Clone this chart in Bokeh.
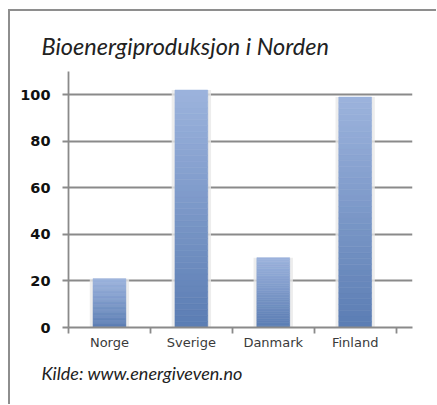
from bokeh.plotting import figure
from bokeh.models import FixedTicker, Range1d, Title
from bokeh.layouts import column
from bokeh.embed import file_html
from bokeh.resources import INLINE

# ---- data ----
categories = ["Norge", "Sverige", "Danmark", "Finland"]
values = [21, 102, 30, 99]
y_ticks = [0, 20, 40, 60, 80, 100]
title_text = "Bioenergiproduksjon i Norden"
source_text = "Kilde: www.energiveven.no"

W, H = 419, 386
p = figure(width=W, height=H, output_backend="svg", toolbar_location=None,
           x_range=Range1d(0, 4.2), y_range=Range1d(0, 110),
           min_border_left=58, min_border_right=17, min_border_top=60, min_border_bottom=70)
p.outline_line_color = None
p.background_fill_color = "white"
p.border_fill_color = "white"
p.title.visible = False

grid_c = "#8a8a8a"

# bars with vertical gradient (dark at bottom, light at top)
centers = [i + 0.5 for i in range(len(categories))]
bw = 0.4
p.vbar(x=centers, top=values, bottom=0, width=bw + 0.08, fill_color="#e8e8e8",
       line_color=None, fill_alpha=0.8)
N = 40
dark = (0x5b, 0x7d, 0xb3)
light = (0x9c, 0xb3, 0xdd)
xs, bots, tops, cols = [], [], [], []
for c, v in zip(centers, values):
    for k in range(N):
        t = (k + 0.5) / N
        rgb = tuple(int(round(d + (l - d) * t)) for d, l in zip(dark, light))
        xs.append(c)
        bots.append(v * k / N)
        tops.append(v * (k + 1) / N)
        cols.append("#%02x%02x%02x" % rgb)
p.vbar(x=xs, bottom=bots, top=tops, width=bw, fill_color=cols, line_color=cols, line_width=0.6)

# axes
xa = p.xaxis[0]
xa.ticker = FixedTicker(ticks=centers, minor_ticks=list(range(len(categories) + 1)))
xa.major_label_overrides = {c: name for c, name in zip(centers, categories)}
xa.major_tick_out = 0
xa.major_tick_in = 0
xa.minor_tick_out = 6
xa.minor_tick_in = 0
xa.minor_tick_line_color = grid_c
xa.minor_tick_line_width = 1.8
xa.axis_line_color = grid_c
xa.axis_line_width = 1.8
xa.major_label_standoff = 1
xa.major_label_text_font = "DejaVu Sans"
xa.major_label_text_font_size = "13px"
xa.major_label_text_color = "#3a3a3a"

ya = p.yaxis[0]
ya.ticker = FixedTicker(ticks=y_ticks, minor_ticks=[])
ya.major_tick_out = 6
ya.major_tick_in = 0
ya.major_tick_line_color = grid_c
ya.major_tick_line_width = 1.8
ya.axis_line_color = grid_c
ya.axis_line_width = 1.8
ya.major_label_standoff = 12
ya.major_label_text_font = "DejaVu Sans"
ya.major_label_text_font_style = "bold"
ya.major_label_text_font_size = "14.5px"
ya.major_label_text_color = "#111111"

p.xgrid.visible = False
p.ygrid.ticker = FixedTicker(ticks=y_ticks, minor_ticks=[])
p.ygrid.grid_line_color = grid_c
p.ygrid.grid_line_width = 1.8

# title and source
p.add_layout(Title(text=title_text, align="left", offset=-27, standoff=23,
                   text_font="Lato", text_font_style="italic", text_font_size="23.5px",
                   text_color="#222222"), "above")
p.add_layout(Title(text=source_text, align="left", offset=-27, standoff=15,
                   text_font="Lato", text_font_style="italic", text_font_size="18px",
                   text_color="#222222"), "below")

inner = column(p, styles={"border-top": "2px solid #8e8e8e", "border-left": "2px solid #8e8e8e",
                          "padding-right": "7px", "padding-bottom": "7px"})
layout = column(inner, styles={"padding-left": "8px", "padding-top": "9px"})
open("out.html", "w").write(file_html(layout, INLINE))
